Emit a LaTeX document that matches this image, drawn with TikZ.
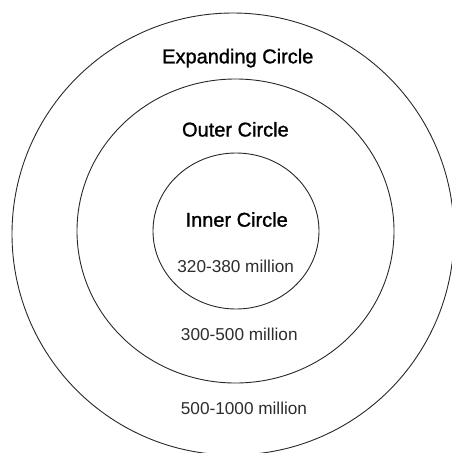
\documentclass[tikz,border=0pt]{standalone}
\usepackage{fontspec}
\setmainfont{Liberation Sans}
\newfontfamily\titlefont[FakeBold=1.2]{Liberation Sans}
\definecolor{ringgray}{RGB}{40,40,40}
\definecolor{numgray}{RGB}{45,45,45}
\usepackage{tikz}

\begin{document}
\begin{tikzpicture}[x=1pt, y=-1pt,
  ring/.style={draw=ringgray, line width=0.9pt},
  title/.style={anchor=base, inner sep=0pt, font=\titlefont\fontsize{20}{24}\selectfont},
  count/.style={anchor=base, inner sep=0pt, text=numgray, font=\fontsize{17.2}{20}\selectfont}
]
\useasboundingbox (0,0) rectangle (452,453);
\clip (0,0) rectangle (452,453);
% circles
\draw[ring] (233,234) ellipse [x radius=221, y radius=221];
\draw[ring] (235.5,231) ellipse [x radius=158.5, y radius=152];
\draw[ring] (236,231) ellipse [x radius=83, y radius=78];
% labels
\node[title] (expanding) at (237.8,63.3) {Expanding Circle};
\node[title] (outer) at (235.4,136.5) {Outer Circle};
\node[title] (inner) at (236.7,226.7) {Inner Circle};
\node[count] (innernum) at (235.7,272.7) {320-380 million};
\node[count] (outernum) at (239.3,340) {300-500 million};
\node[count] (expandingnum) at (244,414) {500-1000 million};
\end{tikzpicture}
\end{document}
